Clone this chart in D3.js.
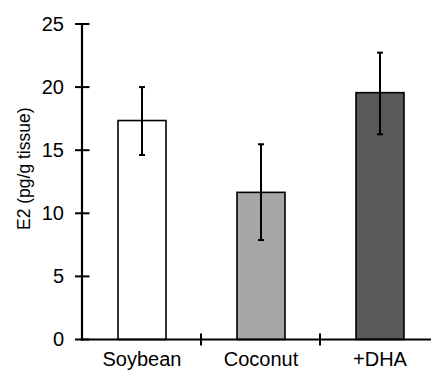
<!DOCTYPE html>
<html><head><meta charset="utf-8">
<script src="https://cdn.jsdelivr.net/npm/d3@7"></script>
<style>body{margin:0;background:#fff}svg{display:block}</style>
</head><body>
<script>
const categories = ["Soybean", "Coconut", "+DHA"];
const means = [17.35, 11.66, 19.56];
const errLow = [14.62, 7.88, 16.26];
const errHigh = [20.0, 15.47, 22.73];
const colors = ["#ffffff", "#a6a6a6", "#595959"];
const yTicks = [0, 5, 10, 15, 20, 25];

const W = 431, H = 371;
const svg = d3.select("body").append("svg").attr("width", W).attr("height", H);
const x0 = 82, yBottom = 339.5, yTop = 24, band = 119;
const x = d3.scaleBand().domain(categories).range([x0, x0 + band * 3]).paddingInner(0).paddingOuter(0);
const y = d3.scaleLinear().domain([0, 25]).range([yBottom, yTop]);
const font = "'Liberation Sans', Arial, sans-serif";
const barW = 48;

// bars
svg.selectAll("rect.bar").data(categories).enter().append("rect")
  .attr("x", (d) => x(d) + x.bandwidth() / 2 - barW / 2 + 0.5)
  .attr("y", (d, i) => y(means[i]))
  .attr("width", barW)
  .attr("height", (d, i) => y(0) - y(means[i]))
  .attr("fill", (d, i) => colors[i])
  .attr("stroke", "#000").attr("stroke-width", 1.6);

// error bars
const eg = svg.append("g").attr("stroke", "#000").attr("stroke-width", 2);
categories.forEach((c, i) => {
  const cx = x(c) + x.bandwidth() / 2 + 0.5;
  eg.append("line").attr("x1", cx).attr("x2", cx).attr("y1", y(errLow[i])).attr("y2", y(errHigh[i]));
  eg.append("line").attr("x1", cx - 3).attr("x2", cx + 3).attr("y1", y(errLow[i])).attr("y2", y(errLow[i]));
  eg.append("line").attr("x1", cx - 3).attr("x2", cx + 3).attr("y1", y(errHigh[i])).attr("y2", y(errHigh[i]));
});

// y axis
const yAxis = d3.axisLeft(y).tickValues(yTicks).tickSize(0).tickPadding(18);
const ga = svg.append("g").attr("transform", `translate(${x0},0)`).call(yAxis);
ga.select(".domain").remove();
ga.selectAll("text").attr("font-family", font).attr("font-size", 20).attr("fill", "#000");
yTicks.forEach(t => {
  svg.append("line").attr("x1", x0 - 7).attr("x2", x0 + 7.5).attr("y1", y(t)).attr("y2", y(t))
    .attr("stroke", "#000").attr("stroke-width", 2);
});
svg.append("line").attr("x1", x0).attr("x2", x0).attr("y1", yTop).attr("y2", yBottom + 1)
  .attr("stroke", "#000").attr("stroke-width", 2.2);

// x axis
svg.append("line").attr("x1", x0 - 1).attr("x2", W).attr("y1", yBottom).attr("y2", yBottom)
  .attr("stroke", "#000").attr("stroke-width", 2);
categories.slice(1).forEach(c => {
  svg.append("line").attr("x1", x(c)).attr("x2", x(c)).attr("y1", yBottom - 6).attr("y2", yBottom + 6)
    .attr("stroke", "#000").attr("stroke-width", 2);
});
svg.selectAll("text.xl").data(categories).enter().append("text")
  .attr("x", (d) => x(d) + x.bandwidth() / 2 + 0.5)
  .attr("y", 366)
  .attr("text-anchor", "middle")
  .attr("font-family", font).attr("font-size", 20).attr("fill", "#000")
  .text(d => d);

// y label
svg.append("text")
  .attr("transform", `translate(29.5,${(yTop + yBottom) / 2 - 13}) rotate(-90)`)
  .attr("text-anchor", "middle")
  .attr("font-family", font).attr("font-size", 17.5).attr("fill", "#000")
  .text("E2 (pg/g tissue)");
</script>
</body></html>
